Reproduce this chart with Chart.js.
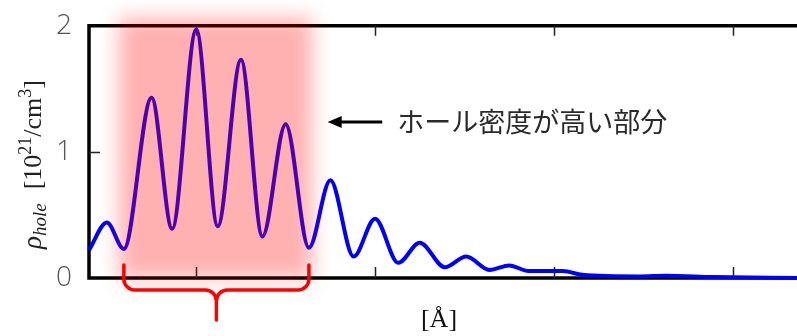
<!DOCTYPE html>
<html>
<head>
<meta charset="utf-8">
<script src="https://cdn.jsdelivr.net/npm/chart.js@4.4.1/dist/chart.umd.min.js"></script>
<style>
  html, body { margin: 0; padding: 0; background: #fff; }
  canvas { display: block; }
</style>
</head>
<body>
<canvas id="holeChart" width="797" height="336"></canvas>
<script>
// position along the cell [Å] and hole density [10^21 / cm^3]
const positions = [4.0, 5.0, 5.95, 7.5, 8.65, 10.0, 11.2, 12.5, 13.7, 15.0, 16.3, 17.5, 18.8, 20.0, 21.3, 22.5, 23.9, 25.1, 26.4, 27.5, 28.6, 30.5, 31.6, 34.8, 36.3, 38.9, 43.6];
const density   = [0.22, 0.44, 0.23, 1.43, 0.39, 1.97, 0.41, 1.73, 0.33, 1.22, 0.24, 0.775, 0.17, 0.47, 0.12, 0.28, 0.085, 0.17, 0.063, 0.10, 0.055, 0.055, 0.025, 0.012, 0.018, 0.008, 0.0];
const xTicks = [10, 20, 30, 40];
const yTicks = [0, 1, 2];
// range marked as the high density part
const highlight = [5.95, 16.3];
const noteText = 'ホール密度が高い部分';

const ctx = document.getElementById('holeChart').getContext('2d');

// frame with inward ticks
const framePlugin = {
  id: 'frame',
  beforeDatasetsDraw(chart) {
    const { ctx, chartArea: a, scales: { x, y } } = chart;
    ctx.save();
    ctx.strokeStyle = '#000';
    ctx.lineWidth = 3.5;
    ctx.beginPath();
    ctx.moveTo(a.right + 5, a.top);
    ctx.lineTo(a.left, a.top);
    ctx.lineTo(a.left, a.bottom);
    ctx.lineTo(a.right + 5, a.bottom);
    ctx.stroke();

    ctx.lineWidth = 1.5;
    ctx.strokeStyle = '#222';
    ctx.beginPath();
    xTicks.forEach(v => {
      const px = Math.round(x.getPixelForValue(v)) + 0.5;
      ctx.moveTo(px, a.bottom);
      ctx.lineTo(px, a.bottom - 11);
      ctx.moveTo(px, a.top);
      ctx.lineTo(px, a.top + 10);
    });
    yTicks.slice(1, -1).forEach(v => {
      const py = Math.round(y.getPixelForValue(v)) + 0.5;
      ctx.moveTo(a.left, py);
      ctx.lineTo(a.left + 11, py);
    });
    ctx.stroke();
    ctx.restore();
  }
};

// highlight box, brace, note and axis titles
const notesPlugin = {
  id: 'notes',
  afterDatasetsDraw(chart) {
    const { ctx, chartArea: a, scales: { x, y } } = chart;
    const hl = x.getPixelForValue(highlight[0]);
    const hr = x.getPixelForValue(highlight[1]);

    ctx.save();
    ctx.filter = 'blur(10px)';
    ctx.fillStyle = 'rgba(255, 0, 0, 0.31)';
    const top = y.getPixelForValue(2) - 8;
    const bottom = y.getPixelForValue(0);
    ctx.fillRect(hl - 5, top, hr - hl + 8, bottom - top);
    ctx.restore();

    // curly brace under the box
    ctx.save();
    ctx.strokeStyle = '#ff0000';
    ctx.lineWidth = 3.5;
    ctx.lineCap = 'round';
    const bTop = a.bottom - 13, bMid = a.bottom + 12, tip = a.bottom + 42;
    const cx = (hl + hr) / 2, r = 11;
    ctx.beginPath();
    ctx.moveTo(hl, bTop);
    ctx.arcTo(hl, bMid, hl + r, bMid, r);
    ctx.arcTo(cx, bMid, cx, bMid + r, r);
    ctx.lineTo(cx, tip);
    ctx.moveTo(hr, bTop);
    ctx.arcTo(hr, bMid, hr - r, bMid, r);
    ctx.arcTo(cx, bMid, cx, bMid + r, r);
    ctx.lineTo(cx, tip);
    ctx.stroke();
    ctx.restore();

    // arrow and note
    ctx.save();
    const ay = Math.round(y.getPixelForValue(1.235));
    const ax0 = x.getPixelForValue(17.35), ax1 = x.getPixelForValue(20.4);
    ctx.strokeStyle = '#000';
    ctx.fillStyle = '#000';
    ctx.lineWidth = 3;
    ctx.beginPath();
    ctx.moveTo(ax1, ay);
    ctx.lineTo(ax0 + 10, ay);
    ctx.stroke();
    ctx.beginPath();
    ctx.moveTo(ax0, ay);
    ctx.lineTo(ax0 + 14, ay - 6);
    ctx.lineTo(ax0 + 14, ay + 6);
    ctx.closePath();
    ctx.fill();
    ctx.fillStyle = '#2a2a2a';
    ctx.font = '27px "Noto Sans CJK JP"';
    ctx.textBaseline = 'middle';
    ctx.fillText(noteText, ax1 + 15, ay);
    ctx.restore();

    // x axis title
    ctx.save();
    ctx.fillStyle = '#111';
    ctx.font = '26px "Liberation Serif"';
    ctx.textAlign = 'center';
    ctx.textBaseline = 'alphabetic';
    ctx.fillText('[Å]', 439, 327);
    ctx.restore();

    // y axis title: rho_hole [10^21/cm^3]
    ctx.save();
    ctx.translate(41, 249);
    ctx.rotate(-Math.PI / 2);
    ctx.fillStyle = '#222';
    ctx.textBaseline = 'alphabetic';
    let cur = 0;
    const put = (txt, font, dy) => {
      ctx.font = font;
      ctx.fillText(txt, cur, dy);
      cur += ctx.measureText(txt).width;
    };
    put('ρ', 'italic 27px "Liberation Serif"', 0);
    put('hole', 'italic 19px "Liberation Serif"', 5);
    cur += 14;
    put('[10', '26px "Liberation Serif"', 0);
    put('21', '18px "Liberation Serif"', -10);
    put('/cm', '26px "Liberation Serif"', 0);
    put('3', '18px "Liberation Serif"', -10);
    put(']', '26px "Liberation Serif"', 0);
    ctx.restore();
  }
};

const data = {
  datasets: [{
    data: positions.map((p, i) => ({ x: p, y: density[i] })),
    borderColor: '#0000ff',
    borderWidth: 4,
    pointRadius: 0,
    cubicInterpolationMode: 'monotone',
    clip: false
  }]
};

const config = {
  type: 'line',
  data,
  options: {
    responsive: false,
    animation: false,
    layout: { padding: { top: 25, left: 0, right: 0, bottom: 0 } },
    plugins: {
      legend: { display: false },
      tooltip: { enabled: false }
    },
    scales: {
      x: {
        type: 'linear',
        min: positions[0],
        max: positions[positions.length - 1],
        grid: { display: false },
        border: { display: false },
        ticks: { display: false },
        afterBuildTicks: s => { s.ticks = xTicks.map(v => ({ value: v })); },
        afterFit: s => { s.height = 58; }
      },
      y: {
        min: 0,
        max: 2,
        grid: { display: false },
        border: { display: false },
        ticks: {
          stepSize: 1,
          padding: 9,
          color: '#555',
          font: { family: 'Open Sans', size: 28, weight: 300 }
        },
        afterBuildTicks: s => { s.ticks = yTicks.map(v => ({ value: v })); },
        afterFit: s => { s.width = 89; }
      }
    }
  },
  plugins: [framePlugin, notesPlugin]
};

const holeChart = new Chart(ctx, config);
</script>
</body>
</html>
